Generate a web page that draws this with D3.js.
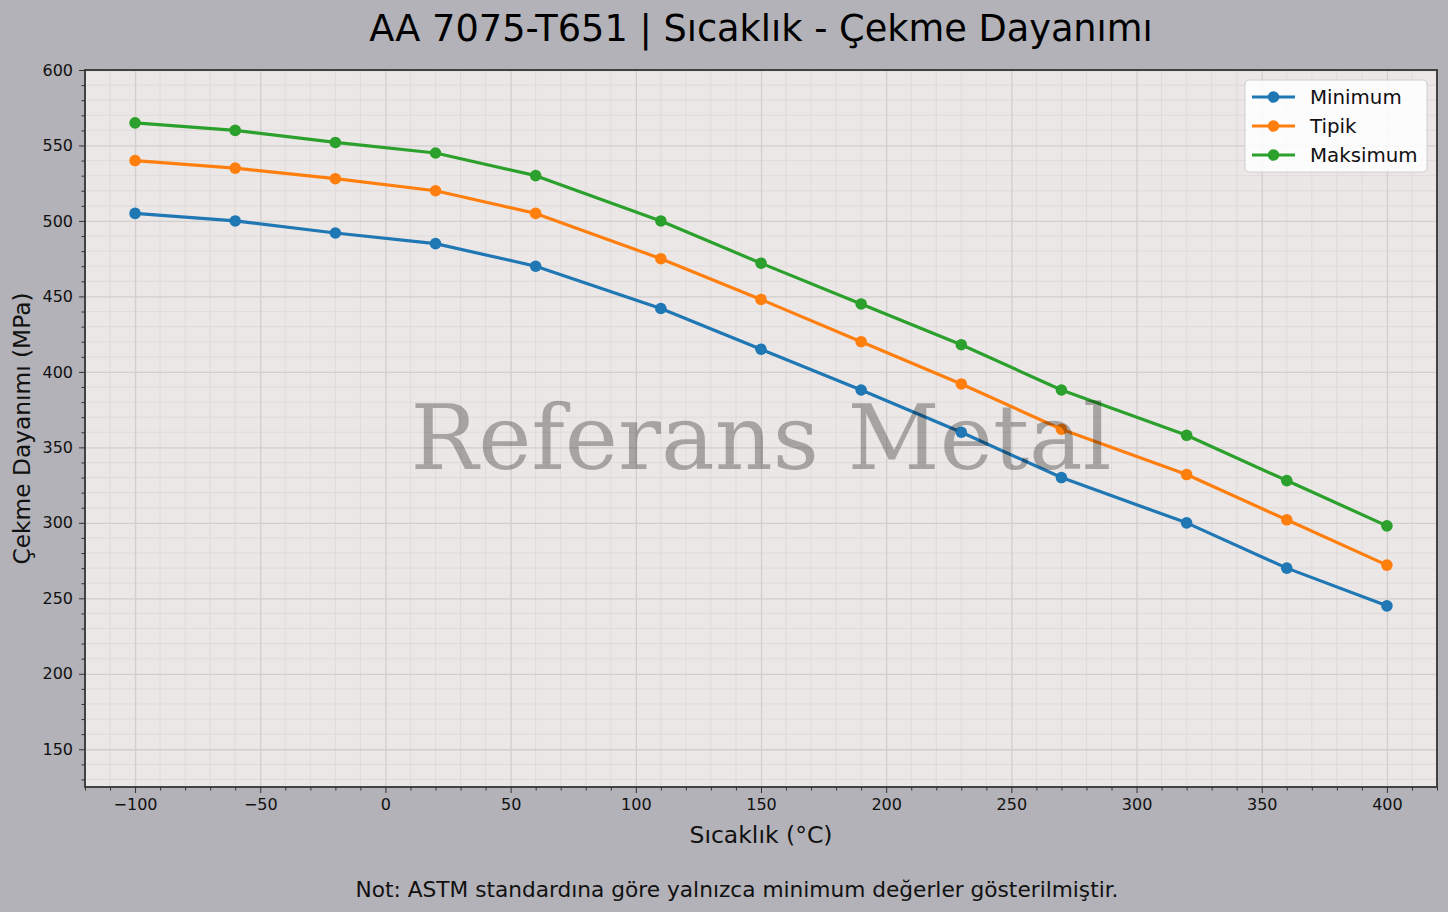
<!DOCTYPE html>
<html>
<head>
<meta charset="utf-8">
<script src="https://cdn.jsdelivr.net/npm/d3@7"></script>
<style>
  html, body { margin: 0; padding: 0; background: #b3b2b8; }
  svg { display: block; font-family: "DejaVu Sans", sans-serif; }
</style>
</head>
<body>
<div id="chart"></div>
<script>
// ====================
// Data
// ====================
const temps    = [-100, -60, -20, 20, 60, 110, 150, 190, 230, 270, 320, 360, 400];
const minimum  = [505, 500, 492, 485, 470, 442, 415, 388, 360, 330, 300, 270, 245];
const tipik    = [540, 535, 528, 520, 505, 475, 448, 420, 392, 362, 332, 302, 272];
const maksimum = [565, 560, 552, 545, 530, 500, 472, 445, 418, 388, 358, 328, 298];

const seriesNames  = ["Minimum", "Tipik", "Maksimum"];
const seriesColors = ["#1f77b4", "#ff7f0e", "#2ca02c"];
const xTicks = [-100, -50, 0, 50, 100, 150, 200, 250, 300, 350, 400];
const yTicks = [150, 200, 250, 300, 350, 400, 450, 500, 550, 600];

const titleText = "AA 7075-T651 | Sıcaklık - Çekme Dayanımı";
const xLabel    = "Sıcaklık (°C)";
const yLabel    = "Çekme Dayanımı (MPa)";
const noteText  = "Not: ASTM standardına göre yalnızca minimum değerler gösterilmiştir.";
const watermark = "Referans Metal";

// ====================
// Layout
// ====================
const width = 1448, height = 912;
const margin = { left: 85, right: 11, top: 70, bottom: 125 };
const plotW = width - margin.left - margin.right;
const plotH = height - margin.top - margin.bottom;
const FONT = "'DejaVu Sans', sans-serif";

const svg = d3.select("#chart")
  .append("svg")
  .attr("width", width)
  .attr("height", height);

svg.append("rect")
  .attr("width", width).attr("height", height)
  .attr("fill", "#b3b2b8");

// Scales
const x = d3.scaleLinear().domain([-120, 420]).range([margin.left, margin.left + plotW]);
const y = d3.scaleLinear().domain([125, 600]).range([margin.top + plotH, margin.top]);

// Plot background
svg.append("rect")
  .attr("x", margin.left).attr("y", margin.top)
  .attr("width", plotW).attr("height", plotH)
  .attr("fill", "#eae7e6");

// ====================
// Grid (minor + major)
// ====================
const xMinor = d3.range(-120, 421, 10).filter(v => v % 50 !== 0);
const yMinor = d3.range(130, 601, 10).filter(v => v % 50 !== 0);

const grid = svg.append("g").attr("class", "grid");
grid.selectAll(".vx-minor").data(xMinor).join("line")
  .attr("x1", d => x(d)).attr("x2", d => x(d))
  .attr("y1", margin.top).attr("y2", margin.top + plotH)
  .attr("stroke", "#dcd8d7").attr("stroke-width", 0.8);
grid.selectAll(".hy-minor").data(yMinor).join("line")
  .attr("x1", margin.left).attr("x2", margin.left + plotW)
  .attr("y1", d => y(d)).attr("y2", d => y(d))
  .attr("stroke", "#dcd8d7").attr("stroke-width", 0.8);

svg.append("g")
  .attr("transform", `translate(0,${margin.top + plotH})`)
  .call(d3.axisBottom(x).tickValues(xTicks).tickSize(-plotH).tickFormat(""))
  .call(g => g.select(".domain").remove())
  .call(g => g.selectAll("line").attr("stroke", "#d2cecd").attr("stroke-width", 1.3));

svg.append("g")
  .attr("transform", `translate(${margin.left},0)`)
  .call(d3.axisLeft(y).tickValues(yTicks).tickSize(-plotW).tickFormat(""))
  .call(g => g.select(".domain").remove())
  .call(g => g.selectAll("line").attr("stroke", "#d2cecd").attr("stroke-width", 1.3));

// ====================
// Lines + markers
// ====================
const allSeries = [minimum, tipik, maksimum];
const line = d3.line()
  .x((d, i) => x(temps[i]))
  .y(d => y(d));

allSeries.forEach((vals, k) => {
  const g = svg.append("g").attr("class", "series");
  g.append("path")
    .datum(vals)
    .attr("d", line)
    .attr("fill", "none")
    .attr("stroke", seriesColors[k])
    .attr("stroke-width", 3.2)
    .attr("stroke-linejoin", "round");
  g.selectAll("circle")
    .data(vals)
    .join("circle")
    .attr("cx", (d, i) => x(temps[i]))
    .attr("cy", d => y(d))
    .attr("r", 5.8)
    .attr("fill", seriesColors[k]);
});

// Watermark (drawn on top, semi-transparent)
svg.append("text")
  .attr("x", x(150))
  .attr("y", 469)
  .attr("text-anchor", "middle")
  .attr("font-family", "'DejaVu Serif', serif")
  .attr("font-size", 90)
  .attr("fill", "#000")
  .attr("fill-opacity", 0.29)
  .text(watermark);

// ====================
// Axes (ticks + labels)
// ====================
const axisColor = "#333";

const xAxis = svg.append("g")
  .attr("transform", `translate(0,${margin.top + plotH})`)
  .call(d3.axisBottom(x).tickValues(xTicks).tickSize(6).tickPadding(6)
    .tickFormat(d => d < 0 ? "\u2212" + Math.abs(d) : d));
xAxis.select(".domain").remove();
xAxis.attr("font-family", FONT);
xAxis.selectAll("text").attr("font-size", 16).attr("fill", "#111");
xAxis.selectAll("line").attr("stroke", axisColor);

const xMinorAxis = svg.append("g")
  .attr("transform", `translate(0,${margin.top + plotH})`)
  .call(d3.axisBottom(x).tickValues(xMinor).tickSize(3.5).tickFormat(""));
xMinorAxis.select(".domain").remove();
xMinorAxis.selectAll("line").attr("stroke", axisColor);

const yAxis = svg.append("g")
  .attr("transform", `translate(${margin.left},0)`)
  .call(d3.axisLeft(y).tickValues(yTicks).tickSize(6).tickPadding(6));
yAxis.select(".domain").remove();
yAxis.attr("font-family", FONT);
yAxis.selectAll("text").attr("font-size", 16).attr("fill", "#111");
yAxis.selectAll("line").attr("stroke", axisColor);

const yMinorAxis = svg.append("g")
  .attr("transform", `translate(${margin.left},0)`)
  .call(d3.axisLeft(y).tickValues(yMinor).tickSize(3.5).tickFormat(""));
yMinorAxis.select(".domain").remove();
yMinorAxis.selectAll("line").attr("stroke", axisColor);

// Frame
svg.append("rect")
  .attr("x", margin.left).attr("y", margin.top)
  .attr("width", plotW).attr("height", plotH)
  .attr("fill", "none")
  .attr("stroke", axisColor)
  .attr("stroke-width", 1.8);

// ====================
// Legend
// ====================
const legend = svg.append("g").attr("transform", "translate(1245,80)");
legend.append("rect")
  .attr("width", 182).attr("height", 92)
  .attr("rx", 4)
  .attr("fill", "#fff").attr("fill-opacity", 0.85)
  .attr("stroke", "#d0d0d0");

seriesNames.forEach((name, i) => {
  const row = legend.append("g").attr("transform", `translate(0,${17 + i * 29})`);
  row.append("line")
    .attr("x1", 7).attr("x2", 50)
    .attr("stroke", seriesColors[i]).attr("stroke-width", 3.2);
  row.append("circle")
    .attr("cx", 28.5).attr("r", 5.8)
    .attr("fill", seriesColors[i]);
  row.append("text")
    .attr("x", 65).attr("dy", "0.35em")
    .attr("font-size", 19.8)
    .attr("fill", "#111")
    .text(name);
});

// ====================
// Titles & labels
// ====================
svg.append("text")
  .attr("x", x(150)).attr("y", 41)
  .attr("text-anchor", "middle")
  .attr("font-size", 36.7)
  .attr("fill", "#000")
  .text(titleText);

svg.append("text")
  .attr("x", x(150)).attr("y", 843)
  .attr("text-anchor", "middle")
  .attr("font-size", 23.5)
  .attr("fill", "#111")
  .text(xLabel);

svg.append("text")
  .attr("transform", `translate(30,${(margin.top + margin.top + plotH) / 2}) rotate(-90)`)
  .attr("text-anchor", "middle")
  .attr("font-size", 23.3)
  .attr("fill", "#111")
  .text(yLabel);

svg.append("text")
  .attr("x", 737).attr("y", 897)
  .attr("text-anchor", "middle")
  .attr("font-size", 21.7)
  .attr("fill", "#111")
  .text(noteText);

console.log("Chart drawn");
</script>
</body>
</html>
